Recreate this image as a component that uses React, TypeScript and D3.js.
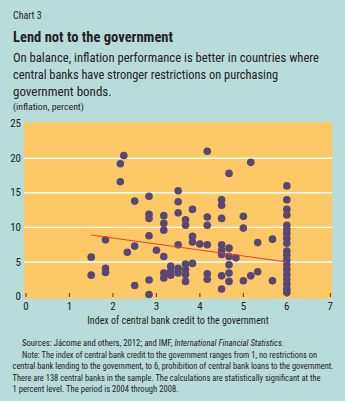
import React from "react";
import * as d3 from "d3";

const creditIndex = [
  1.5, 1.5,
  1.83, 1.83, 1.83,
  2.17, 2.17, 2.25, 2.33,
  2.5, 2.5, 2.5,
  2.83, 2.83, 2.83, 2.83, 2.83, 2.83,
  3.0,
  3.17, 3.17, 3.17, 3.17, 3.17, 3.17,
  3.33, 3.33, 3.33,
  3.5, 3.5, 3.5, 3.5, 3.5, 3.5,
  3.67, 3.67, 3.67, 3.67, 3.67, 3.67,
  3.83, 3.83, 3.83, 3.83,
  4.0,
  4.17, 4.17, 4.17, 4.17, 4.17, 4.17,
  4.5, 4.5, 4.5, 4.5, 4.5, 4.5, 4.5, 4.5,
  4.67, 4.67, 4.67, 4.67, 4.67, 4.67,
  4.83,
  5.0, 5.0, 5.0,
  5.17, 5.17,
  5.33, 5.33,
  5.67, 5.67,
  6, 6, 6, 6, 6, 6, 6, 6, 6, 6, 6, 6, 6, 6, 6, 6, 6, 6, 6,
];

const inflation = [
  5.7, 3.1,
  8.2, 4.1, 3.5,
  19.2, 16.6, 20.4, 6.4,
  13.8, 7.3, 1.6,
  14.5, 11.9, 11.3, 8.8, 2.4, 0.3,
  6.7,
  11.7, 10.6, 9.6, 5.8, 3.4, 2.7,
  4.4, 3.7, 3.1,
  15.3, 13.7, 12.1, 7.5, 4.1, 3.4,
  11.1, 10.3, 4.7, 3.9, 3.2, 2.2,
  12.6, 8.7, 7.9, 4.8,
  7.6,
  21.0, 11.5, 10.3, 7.5, 3.3, 2.5,
  14.0, 13.2, 11.3, 7.5, 6.7, 6.1, 3.0, 1.1,
  17.8, 7.0, 5.8, 4.6, 3.4, 2.2,
  5.6,
  11.6, 9.9, 2.3,
  19.4, 3.0,
  7.8, 3.6,
  8.3, 2.3,
  16.0, 14.0, 12.6, 11.8, 10.3, 9.7, 9.1, 8.4, 7.7, 6.6, 6.0, 5.3, 4.6, 3.9, 3.2, 2.5, 1.8, 1.1, 0.6,
];

const trendX = [1.5, 6];
const trendY = [8.9, 5.0];

const xTicks = [0, 1, 2, 3, 4, 5, 6, 7];
const yTicks = [0, 5, 10, 15, 20, 25];
const gridValues = [5, 10, 15, 20];

const subtitleLines = [
  "On balance, inflation performance is better in countries where",
  "central banks have stronger restrictions on purchasing",
  "government bonds.",
];

const W = 345;
const H = 401;
const BG = "#b8dcd9";
const PLOT = "#fdc866";
const DOT = "#574676";
const TEXT = "#222222";
const FONT = "'Liberation Sans Narrow', 'Arial Narrow', 'Roboto Condensed', sans-serif";

export default function App() {
  const x = d3.scaleLinear().domain([0, 7]).range([26, 330.3]);
  const y = d3.scaleLinear().domain([0, 25]).range([296.6, 123.6]);
  const line = d3
    .line<number>()
    .x((d) => x(d))
    .y((_, i) => y(trendY[i]));

  return (
    <svg
      width={W}
      height={H}
      style={{ position: "absolute", left: 0, top: 0, display: "block" }}
      fontFamily={FONT}
    >
      <rect x={0} y={0} width={W} height={H} fill={BG} />
      <text x={13} y={19} fontSize={10} fill={TEXT}>Chart 3</text>
      <text x={13} y={41.5} fontSize={15} fontWeight="bold" fill={TEXT} textLength={160} lengthAdjust="spacingAndGlyphs">
        Lend not to the government
      </text>
      {subtitleLines.map((s, i) => (
        <text
          key={i}
          x={13}
          y={62 + i * 17}
          fontSize={13}
          fill={TEXT}
          {...(i === 0 ? { textLength: 306, lengthAdjust: "spacingAndGlyphs" } : {})}
          {...(i === 1 ? { textLength: 265, lengthAdjust: "spacingAndGlyphs" } : {})}
        >
          {s}
        </text>
      ))}
      <text x={13} y={110} fontSize={9.8} fill={TEXT}>(inflation, percent)</text>

      <rect x={24} y={122} width={308} height={176.5} fill={PLOT} />
      {gridValues.map((v) => (
        <line key={v} x1={24} x2={332} y1={y(v)} y2={y(v)} stroke="#ffffff" strokeWidth={1.4} />
      ))}
      {xTicks.map((t) => (
        <line key={t} x1={x(t)} x2={x(t)} y1={293} y2={297} stroke="#333" strokeWidth={0.9} />
      ))}
      {yTicks.map((t) => (
        <text key={t} x={21} y={y(t) + 3.6} fontSize={11} textAnchor="end" fill={TEXT}>
          {t}
        </text>
      ))}
      {xTicks.map((t) => (
        <text key={t} x={x(t)} y={309.5} fontSize={11} textAnchor="middle" fill={TEXT}>
          {t}
        </text>
      ))}
      <text x={178} y={323.5} fontSize={10} textAnchor="middle" fill={TEXT}>
        Index of central bank credit to the government
      </text>

      {creditIndex.map((cx, i) => (
        <circle key={i} cx={x(cx)} cy={y(inflation[i])} r={3.8} fill={DOT} />
      ))}
      <path d={line(trendX) || ""} fill="none" stroke="#e8412c" strokeWidth={1.1} />

      <text x={22} y={346} fontSize={8.7} fill={TEXT}>
        Sources: Jácome and others, 2012; and IMF, <tspan fontStyle="italic">International Financial Statistics</tspan>.
      </text>
      <text x={22} y={357.5} fontSize={8.7} fill={TEXT} textLength={295} lengthAdjust="spacingAndGlyphs">
        Note: The index of central bank credit to the government ranges from 1, no restrictions on
      </text>
      <text x={12.5} y={369} fontSize={8.7} fill={TEXT} textLength={321} lengthAdjust="spacingAndGlyphs">
        central bank lending to the government, to 6, prohibition of central bank loans to the government.
      </text>
      <text x={12.5} y={380.5} fontSize={8.7} fill={TEXT} textLength={308} lengthAdjust="spacingAndGlyphs">
        There are 138 central banks in the sample. The calculations are statistically significant at the
      </text>
      <text x={12.5} y={392} fontSize={8.7} fill={TEXT} textLength={166} lengthAdjust="spacingAndGlyphs">
        1 percent level. The period is 2004 through 2008.
      </text>
    </svg>
  );
}
